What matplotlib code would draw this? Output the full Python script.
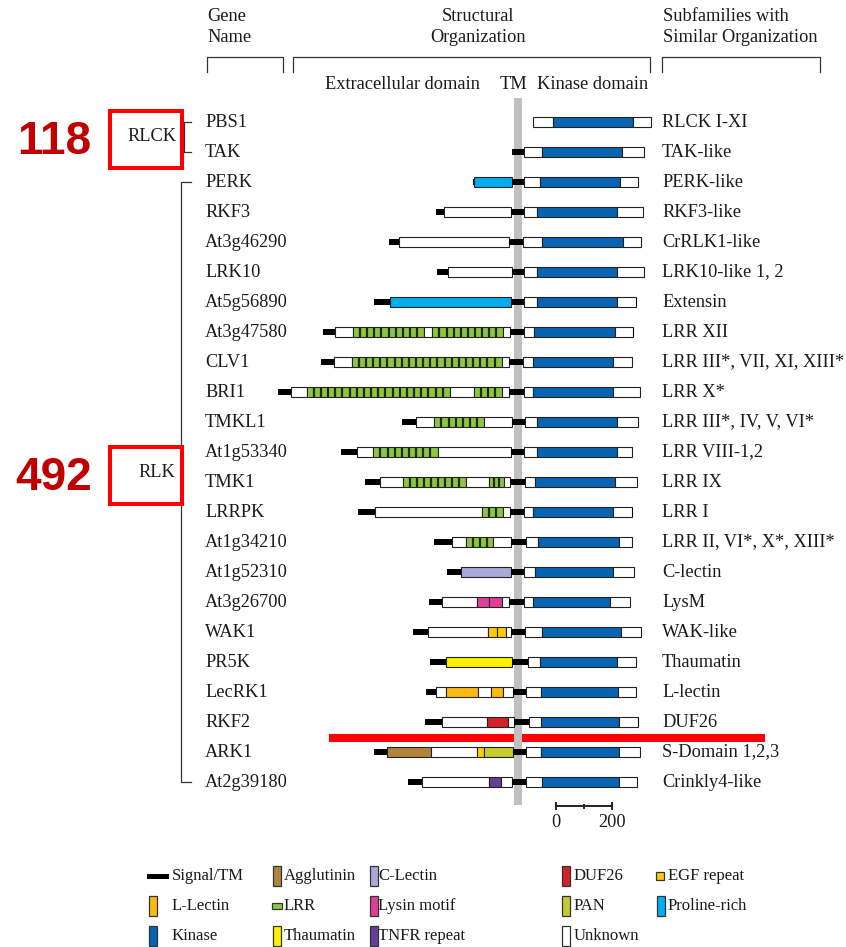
import matplotlib.pyplot as plt
from matplotlib.patches import Rectangle
from matplotlib.transforms import blended_transform_factory

# gene names, subfamily labels
genes = ["PBS1", "TAK", "PERK", "RKF3", "At3g46290", "LRK10", "At5g56890",
         "At3g47580", "CLV1", "BRI1", "TMKL1", "At1g53340", "TMK1", "LRRPK",
         "At1g34210", "At1g52310", "At3g26700", "WAK1", "PR5K", "LecRK1",
         "RKF2", "ARK1", "At2g39180"]

subfamilies = ["RLCK I-XI", "TAK-like", "PERK-like", "RKF3-like", "CrRLK1-like",
               "LRK10-like 1, 2", "Extensin", "LRR XII", "LRR III*, VII, XI, XIII*",
               "LRR X*", "LRR III*, IV, V, VI*", "LRR VIII-1,2", "LRR IX", "LRR I",
               "LRR II, VI*, X*, XIII*", "C-lectin", "LysM", "WAK-like", "Thaumatin",
               "L-lectin", "DUF26", "S-Domain 1,2,3", "Crinkly4-like"]

# N-terminus position (aa) relative to the TM line
starts = [52, -23, -162, -294, -460, -290, -513, -698, -704, -856, -415, -633,
          -546, -570, -299, -255, -318, -376, -314, -329, -332, -513, -392]

# domains from N to C: (type, length in aa[, repeats])
domains = [
    [("U", 74), ("K", 284), ("U", 64)],
    [("TM", 45), ("U", 64), ("K", 287), ("U", 76)],
    [("S", 5), ("P", 137), ("TM", 43), ("U", 54), ("K", 286), ("U", 64)],
    [("S", 30), ("U", 239), ("TM", 48), ("U", 44), ("K", 286), ("U", 93)],
    [("S", 36), ("U", 393), ("TM", 50), ("U", 68), ("K", 287), ("U", 65)],
    [("S", 41), ("U", 229), ("TM", 43), ("U", 44), ("K", 286), ("U", 98)],
    [("S", 56), ("P", 431), ("TM", 49), ("U", 44), ("K", 286), ("U", 69), ("C", 4)],
    [("S", 45), ("U", 64), ("LRR", 253, 10), ("U", 30), ("LRR", 254, 10), ("U", 24),
     ("TM", 51), ("U", 35), ("K", 287), ("U", 66), ("C", 4)],
    [("S", 48), ("U", 62), ("LRR", 536, 21), ("U", 27), ("TM", 50), ("U", 34),
     ("K", 286), ("U", 68)],
    [("S", 44), ("U", 57), ("LRR", 512, 20), ("U", 86), ("LRR", 99, 4), ("U", 27),
     ("TM", 54), ("U", 30), ("K", 286), ("U", 95)],
    [("S", 50), ("U", 66), ("LRR", 178, 7), ("U", 99), ("TM", 48), ("U", 42),
     ("K", 286), ("U", 74)],
    [("S", 59), ("U", 57), ("LRR", 230, 9), ("U", 261), ("TM", 49), ("U", 44),
     ("K", 286), ("U", 54)],
    [("S", 54), ("U", 80), ("LRR", 228, 9), ("U", 82), ("LRR", 51, 3), ("U", 24),
     ("TM", 51), ("U", 35), ("K", 287), ("U", 78)],
    [("S", 60), ("U", 383), ("LRR", 75, 3), ("U", 24), ("TM", 51), ("U", 30),
     ("K", 286), ("U", 68), ("C", 4)],
    [("S", 64), ("U", 49), ("LRR", 98, 4), ("U", 62), ("TM", 54), ("U", 45),
     ("K", 286), ("U", 48)],
    [("S", 50), ("CL", 179), ("TM", 49), ("U", 38), ("K", 278), ("U", 74)],
    [("S", 45), ("U", 127), ("Ly", 42), ("Ly", 48), ("U", 25), ("TM", 54), ("U", 30),
     ("K", 276), ("U", 71)],
    [("S", 54), ("U", 214), ("E", 32), ("E", 32), ("U", 18), ("TM", 51), ("U", 62),
     ("K", 280), ("U", 73)],
    [("S", 56), ("T", 236), ("TM", 56), ("U", 43), ("K", 276), ("U", 69)],
    [("S", 36), ("U", 35), ("L", 114), ("U", 46), ("L", 43), ("U", 38), ("TM", 44),
     ("U", 54), ("K", 277), ("U", 63)],
    [("S", 60), ("U", 163), ("D", 73), ("U", 20), ("TM", 54), ("U", 44), ("K", 277),
     ("U", 68), ("C", 4)],
    [("S", 44), ("A", 157), ("U", 164), ("E", 27), ("PAN", 104), ("TM", 44), ("U", 54),
     ("K", 281), ("U", 74)],
    [("S", 50), ("U", 238), ("TN", 45), ("U", 38), ("TM", 51), ("U", 56), ("K", 275),
     ("U", 64)],
]

colors = {
    "U": "white", "K": "#0664b2", "P": "#00aeef", "LRR": "#8dc63f",
    "CL": "#a9a9d9", "Ly": "#df3f98", "E": "#ffcb05", "T": "#fff200",
    "L": "#fdb913", "D": "#d2232a", "A": "#b0843a", "PAN": "#c4cc30",
    "TN": "#663f96",
}

group_counts = ["118", "492"]
scale_ticks = [0, 100, 200]

# legend layout: (label, kind, style)
legend_items = [
    [("Signal/TM", "S", "bar"), ("L-Lectin", "L", "tall"), ("Kinase", "K", "tall")],
    [("Agglutinin", "A", "tall"), ("LRR", "LRR", "small"), ("Thaumatin", "T", "tall")],
    [("C-Lectin", "CL", "tall"), ("Lysin motif", "Ly", "tall"), ("TNFR repeat", "TN", "tall")],
    [("DUF26", "D", "tall"), ("PAN", "PAN", "tall"), ("Unknown", "U", "tall")],
    [("EGF repeat", "E", "square"), ("Proline-rich", "P", "tall")],
]

SERIF = "Liberation Serif"
TXT = "#1a1a1a"
EDGE = "#222222"
FS = 13.2

fig = plt.figure(figsize=(8.46, 9.47), dpi=100)
ax = fig.add_axes([0, 0, 1, 1])
ax.set_xlim(0, 846)
ax.set_ylim(947, 0)
ax.axis("off")

# protein axes: x in amino acids (0.28 px / aa, TM line at 518 px), y in rows
PX_AA = 0.28
bx = fig.add_axes([0, 0, 1, 1])
bx.set_xlim(-518 / PX_AA, (846 - 518) / PX_AA)
bx.set_ylim((947 - 122) / 30, -122 / 30)
bx.axis("off")
bx.patch.set_alpha(0)

row_tf = blended_transform_factory(ax.transData, bx.transData)

HB = 0.36   # box height (rows)
HS = 0.23   # signal / TM height

# TM gray line
bx.plot([0, 0], [-0.8, 22.77], color="#c0c0c0", lw=5.8, solid_capstyle="butt", zorder=1)


def draw_protein(row, start, segs):
    x = start
    for seg in segs:
        kind, length = seg[0], seg[1]
        if kind in ("S", "TM"):
            bx.add_patch(Rectangle((x, row - HS / 2), length, HS, fc="black", ec="none", zorder=3))
        elif kind == "C":
            bx.add_patch(Rectangle((x, row - 0.14), length, 0.28, fc="black", ec="none", zorder=3))
        elif kind == "LRR":
            n = seg[2]
            w = length / n
            bx.add_patch(Rectangle((x, row - HB / 2), length, HB, fc=colors["LRR"],
                                   ec=EDGE, lw=0.8, zorder=3))
            for k in range(1, n):
                bx.plot([x + k * w] * 2, [row - HB / 2, row + HB / 2], color="#1e2a10",
                        lw=1.6, zorder=4, solid_capstyle="butt")
        else:
            bx.add_patch(Rectangle((x, row - HB / 2), length, HB, fc=colors[kind],
                                   ec=EDGE, lw=0.8, zorder=3))
        x += length


for i, (g, sf, st, segs) in enumerate(zip(genes, subfamilies, starts, domains)):
    draw_protein(i, st, segs)
    ax.text(205, i, g, transform=row_tf, ha="left", va="center", fontsize=FS,
            family=SERIF, color=TXT)
    ax.text(662, i, sf, transform=row_tf, ha="left", va="center", fontsize=FS,
            family=SERIF, color=TXT)

# header
ax.text(207, 16, "Gene", ha="left", va="center", fontsize=FS, family=SERIF, color=TXT)
ax.text(207, 37, "Name", ha="left", va="center", fontsize=FS, family=SERIF, color=TXT)
ax.text(478, 16, "Structural", ha="center", va="center", fontsize=FS, family=SERIF, color=TXT)
ax.text(478, 37, "Organization", ha="center", va="center", fontsize=FS, family=SERIF, color=TXT)
ax.text(663, 16, "Subfamilies with", ha="left", va="center", fontsize=FS, family=SERIF, color=TXT)
ax.text(663, 37, "Similar Organization", ha="left", va="center", fontsize=FS, family=SERIF, color=TXT)
for x0, x1 in [(207, 283), (293, 650), (662, 820)]:
    ax.plot([x0, x0, x1, x1], [72, 57, 57, 72], color="#333333", lw=0.9)
ax.text(325, 84, "Extracellular domain", ha="left", va="center", fontsize=FS, family=SERIF, color=TXT)
ax.text(500, 84, "TM", ha="left", va="center", fontsize=FS, family=SERIF, color=TXT)
ax.text(537, 84, "Kinase domain", ha="left", va="center", fontsize=FS, family=SERIF, color=TXT)

# tree brackets
ax.plot([191, 184, 184, 191], [0, 0, 1, 1], transform=row_tf, color="#333333", lw=0.9)
ax.plot([191, 181, 181, 191], [2, 2, 22, 22], transform=row_tf, color="#333333", lw=0.9)

# red group boxes and counts
for (y0, y1, lab, lx), cnt in zip([(111, 168, "RLCK", 127), (447, 504, "RLK", 138)], group_counts):
    ax.add_patch(Rectangle((110, y0), 72, y1 - y0, fc="none", ec="#ff0000", lw=2.9, zorder=5))
    ax.text(lx, (y0 + y1) / 2 - 3, lab, ha="left", va="center", fontsize=FS,
            family=SERIF, color=TXT)
    ax.text(54, (y0 + y1) / 2 + 2, cnt, ha="center", va="center", fontsize=33,
            family="Liberation Sans", weight="bold", color="#c00000")

# red separator line
ax.plot([329, 765], [738, 738], color="#ff0000", lw=5.8, solid_capstyle="butt", zorder=6)

# scale bar
s0 = (556 - 518) / PX_AA
ys = (806 - 122) / 30
bx.plot([s0 + scale_ticks[0], s0 + scale_ticks[-1]], [ys, ys], color="#222222", lw=1.4)
for t in scale_ticks:
    h = 0.1 if t in (scale_ticks[0], scale_ticks[-1]) else 0.05
    bx.plot([s0 + t] * 2, [ys - h, ys + h], color="#222222", lw=1.4)
for t in (scale_ticks[0], scale_ticks[-1]):
    bx.text(s0 + t, ys + 0.55, str(t), ha="center", va="center", fontsize=FS,
            family=SERIF, color=TXT)

# legend
col_sw = [147, 271, 368, 560, 655]
col_tx = [172, 284, 378, 574, 668]
row_y = [876, 906, 936]
for c, items in enumerate(legend_items):
    for r, (label, kind, style) in enumerate(items):
        y = row_y[r]
        fc = "black" if kind == "S" else colors[kind]
        if style == "bar":
            ax.add_patch(Rectangle((col_sw[c], y - 2.5), 22, 5, fc="black", ec="none"))
        elif style == "tall":
            ax.add_patch(Rectangle((col_sw[c] + 2, y - 10), 8, 20, fc=fc, ec="#333333", lw=0.9))
        elif style == "small":
            ax.add_patch(Rectangle((col_sw[c] + 1, y - 3), 10, 6, fc=fc, ec="#333333", lw=0.9))
        else:
            ax.add_patch(Rectangle((col_sw[c] + 1, y - 4), 8, 8, fc=fc, ec="#333333", lw=0.9))
        ax.text(col_tx[c], y, label, ha="left", va="center", fontsize=12,
                family=SERIF, color=TXT)

fig.savefig("out.png", dpi=100)
